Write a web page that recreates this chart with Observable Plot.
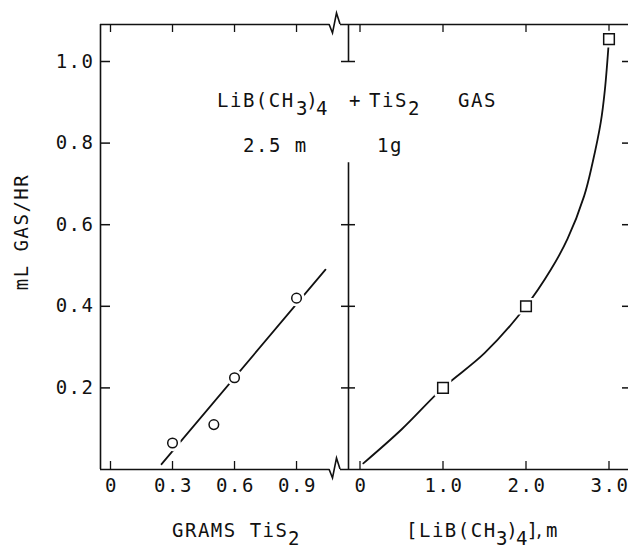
<!DOCTYPE html>
<html>
<head>
<meta charset="utf-8">
<script src="https://cdn.jsdelivr.net/npm/d3@7"></script>
<script src="https://cdn.jsdelivr.net/npm/@observablehq/plot@0.6"></script>
<style>
  html, body { margin: 0; padding: 0; background: #fff; }
  #wrap { position: relative; width: 628px; height: 549px; overflow: hidden; background: #fff; }
  #wrap > svg { position: absolute; top: 0; max-width: none !important; }
</style>
</head>
<body>
<div id="wrap"></div>
<script>
// ---------------- data ----------------
const yTicks = [0.2, 0.4, 0.6, 0.8, 1.0];
const yTickLabels = ["0.2", "0.4", "0.6", "0.8", "1.0"];
const midAxisTicks = [0.2, 0.4, 0.6, 1.0];

const gramsTicks = [0, 0.3, 0.6, 0.9];
const gramsTickLabels = ["0", "0.3", "0.6", "0.9"];
const concTicks = [0, 1, 2, 3];
const concTickLabels = ["0", "1.0", "2.0", "3.0"];

// left panel: gas rate vs grams TiS2 (LiB(CH3)4 2.5 m)
const gramsTiS2 = [0.3, 0.5, 0.6, 0.9];
const gasRateGrams = [0.065, 0.11, 0.225, 0.42];
const gramsFitX = [0.247, 1.04];
const gramsFitY = [0.013, 0.49];

// right panel: gas rate vs [LiB(CH3)4] (TiS2 1 g)
const concLiB = [1.0, 2.0, 3.0];
const gasRateConc = [0.2, 0.4, 1.055];
const concCurveX = [0.04, 0.5, 1.0, 1.5, 2.0, 2.3, 2.5, 2.7, 2.8, 2.9, 2.95, 3.0];
const concCurveY = [0.015, 0.098, 0.2, 0.285, 0.4, 0.49, 0.565, 0.67, 0.75, 0.85, 0.93, 1.055];

// ---------------- layout ----------------
const H = 549, mTop = 24, mBottom = 80;
const yTop = 1.0907;
const pxY = (H - mTop - mBottom) / yTop;

const INK = "#111";
const FONT = "DejaVu Sans Mono, Liberation Mono, monospace";
const PROP = "DejaVu Sans, sans-serif";
const FS = 19;

// left panel: plot area x from 100 to 340
const pxL = 206.7;
const xMinL = -10 / pxL;
const xMaxL = xMinL + 240 / pxL;
const breakL = xMinL + 229 / pxL;   // where frame line stops for the axis break

// right panel: plot area x from 348 to 630 (page); svg left at 320
const pxR = 83;
const xMinR = -11.5 / pxR;
const xMaxR = xMinR + 282 / pxR;
const breakR = xMinR - 8 / pxR;

const gramsPts = gramsTiS2.map((x, i) => ({x, y: gasRateGrams[i]}));
const gramsFit = gramsFitX.map((x, i) => ({x, y: gramsFitY[i]}));
const concPts = concLiB.map((x, i) => ({x, y: gasRateConc[i]}));
const concCurve = concCurveX.map((x, i) => ({x, y: concCurveY[i]}));

const baseStyle = {fontFamily: FONT, background: "transparent", overflow: "visible", letterSpacing: "1.5px"};

const left = Plot.plot({
  width: 340, height: H,
  marginLeft: 100, marginRight: 0, marginTop: mTop, marginBottom: mBottom,
  x: {domain: [xMinL, xMaxL], axis: null},
  y: {domain: [0, yTop], axis: null},
  style: baseStyle,
  marks: [
    Plot.ruleX([xMinL], {y1: 0, y2: yTop, stroke: INK, strokeWidth: 1.6}),
    Plot.ruleY([0, yTop], {x1: xMinL, x2: breakL, stroke: INK, strokeWidth: 1.6}),
    Plot.ruleY(yTicks, {x1: xMinL, x2: xMinL + 10 / pxL, stroke: INK, strokeWidth: 1.5}),
    Plot.ruleX(gramsTicks, {y1: 0, y2: 8 / pxY, stroke: INK, strokeWidth: 1.3}),
    Plot.ruleX(gramsTicks, {y1: yTop, y2: yTop - 8 / pxY, stroke: INK, strokeWidth: 1.3}),
    Plot.text(yTicks, {x: xMinL, y: d => d, text: (d, i) => yTickLabels[i], textAnchor: "end", dx: -6, fontSize: FS, fill: INK}),
    Plot.text(gramsTicks, {x: d => d, y: 0, text: (d, i) => gramsTickLabels[i], dy: 16, dx: 1, fontSize: FS, fill: INK}),
    Plot.line(gramsFit, {x: "x", y: "y", stroke: INK, strokeWidth: 1.8}),
    Plot.dot(gramsPts, {x: "x", y: "y", r: 4.8, fill: "white", stroke: "white", strokeWidth: 7}),
    Plot.dot(gramsPts, {x: "x", y: "y", r: 4.8, fill: "white", stroke: INK, strokeWidth: 1.5})
  ]
});

const right = Plot.plot({
  width: 320, height: H,
  marginLeft: 28, marginRight: 10, marginTop: mTop, marginBottom: mBottom,
  x: {domain: [xMinR, xMaxR], axis: null},
  y: {domain: [0, yTop], axis: null},
  style: baseStyle,
  marks: [
    Plot.ruleY([0, yTop], {x1: breakR, x2: xMaxR, stroke: INK, strokeWidth: 1.6}),
    Plot.ruleX([xMinR], {y1: 0, y2: 0.752, stroke: INK, strokeWidth: 1.6}),
    Plot.ruleX([xMinR], {y1: 1.0, y2: yTop, stroke: INK, strokeWidth: 1.6}),
    Plot.ruleY(midAxisTicks, {x1: xMinR - 7 / pxR, x2: xMinR + 7 / pxR, stroke: INK, strokeWidth: 1.5}),
    Plot.ruleY(yTicks, {x1: xMaxR - 8 / pxR, x2: xMaxR, stroke: INK, strokeWidth: 1.5}),
    Plot.ruleX(concTicks, {y1: 0, y2: 8 / pxY, stroke: INK, strokeWidth: 1.3}),
    Plot.ruleX(concTicks, {y1: yTop, y2: yTop - 8 / pxY, stroke: INK, strokeWidth: 1.3}),
    Plot.text(concTicks, {x: d => d, y: 0, text: (d, i) => concTickLabels[i], dy: 16, dx: 1, fontSize: FS, fill: INK}),
    Plot.line(concCurve, {x: "x", y: "y", curve: "catmull-rom", stroke: INK, strokeWidth: 1.8}),
    Plot.dot(concPts, {x: "x", y: "y", r: 6, symbol: "square", fill: "white", stroke: "white", strokeWidth: 6}),
    Plot.dot(concPts, {x: "x", y: "y", r: 6, symbol: "square", fill: "white", stroke: INK, strokeWidth: 1.5})
  ]
});

const wrap = document.getElementById("wrap");
left.style.left = "0px";
right.style.left = "320px";
wrap.appendChild(left);
wrap.appendChild(right);

// ---------------- overlay: break marks, titles, labels ----------------
function scaleFn(plot, name) {
  const s = plot.scale(name);
  return s.apply ? (v) => s.apply(v) : d3.scaleLinear(s.domain, s.range);
}
const sxL = scaleFn(left, "x");
const syL = scaleFn(left, "y");

const ov = d3.create("svg")
  .attr("width", 628).attr("height", H)
  .style("left", "0px")
  .style("font-family", FONT)
  .style("letter-spacing", "1.5px")
  .style("fill", INK);

// axis break zigzags (top and bottom frame lines)
const bx = sxL(breakL);
[syL(yTop), syL(0)].forEach(by => {
  ov.append("path")
    .attr("d", `M${bx},${by} L${bx + 3.5},${by + 9} L${bx + 7.5},${by - 11} L${bx + 11},${by}`)
    .attr("fill", "none").attr("stroke", INK).attr("stroke-width", 1.6)
    .attr("stroke-linejoin", "miter");
});

function addText(parts, baseline, size) {
  const t = ov.append("text").attr("font-size", size || FS);
  parts.forEach(p => {
    const ts = t.append("tspan").attr("x", p.x).attr("y", baseline + (p.sub ? 8 : 0)).text(p.t);
    if (p.prop) ts.attr("font-family", PROP).attr("letter-spacing", "0.5px");
  });
  return t;
}

// in-plot annotation
addText([
  {t: "LiB(CH", x: 217}, {t: "3", x: 296, sub: true}, {t: ")", x: 308, prop: true},
  {t: "4", x: 316, sub: true}, {t: "+", x: 349}, {t: "TiS", x: 369},
  {t: "2", x: 408, sub: true}, {t: "GAS", x: 458}
], 107);
addText([{t: "2.5 m", x: 243}, {t: "1g", x: 377}], 152);

// x-axis titles
addText([{t: "GRAMS TiS", x: 172}, {t: "2", x: 288, sub: true}], 537);
addText([
  {t: "[LiB(CH", x: 406}, {t: "3", x: 496, sub: true}, {t: ")", x: 508, prop: true},
  {t: "4", x: 516, sub: true}, {t: "],", x: 528, prop: true}, {t: "m", x: 546}
], 537);

// y-axis title
ov.append("text")
  .attr("font-size", FS)
  .attr("text-anchor", "middle")
  .attr("transform", "translate(28,232) rotate(-90)")
  .text("mL GAS/HR");

wrap.appendChild(ov.node());
</script>
</body>
</html>
